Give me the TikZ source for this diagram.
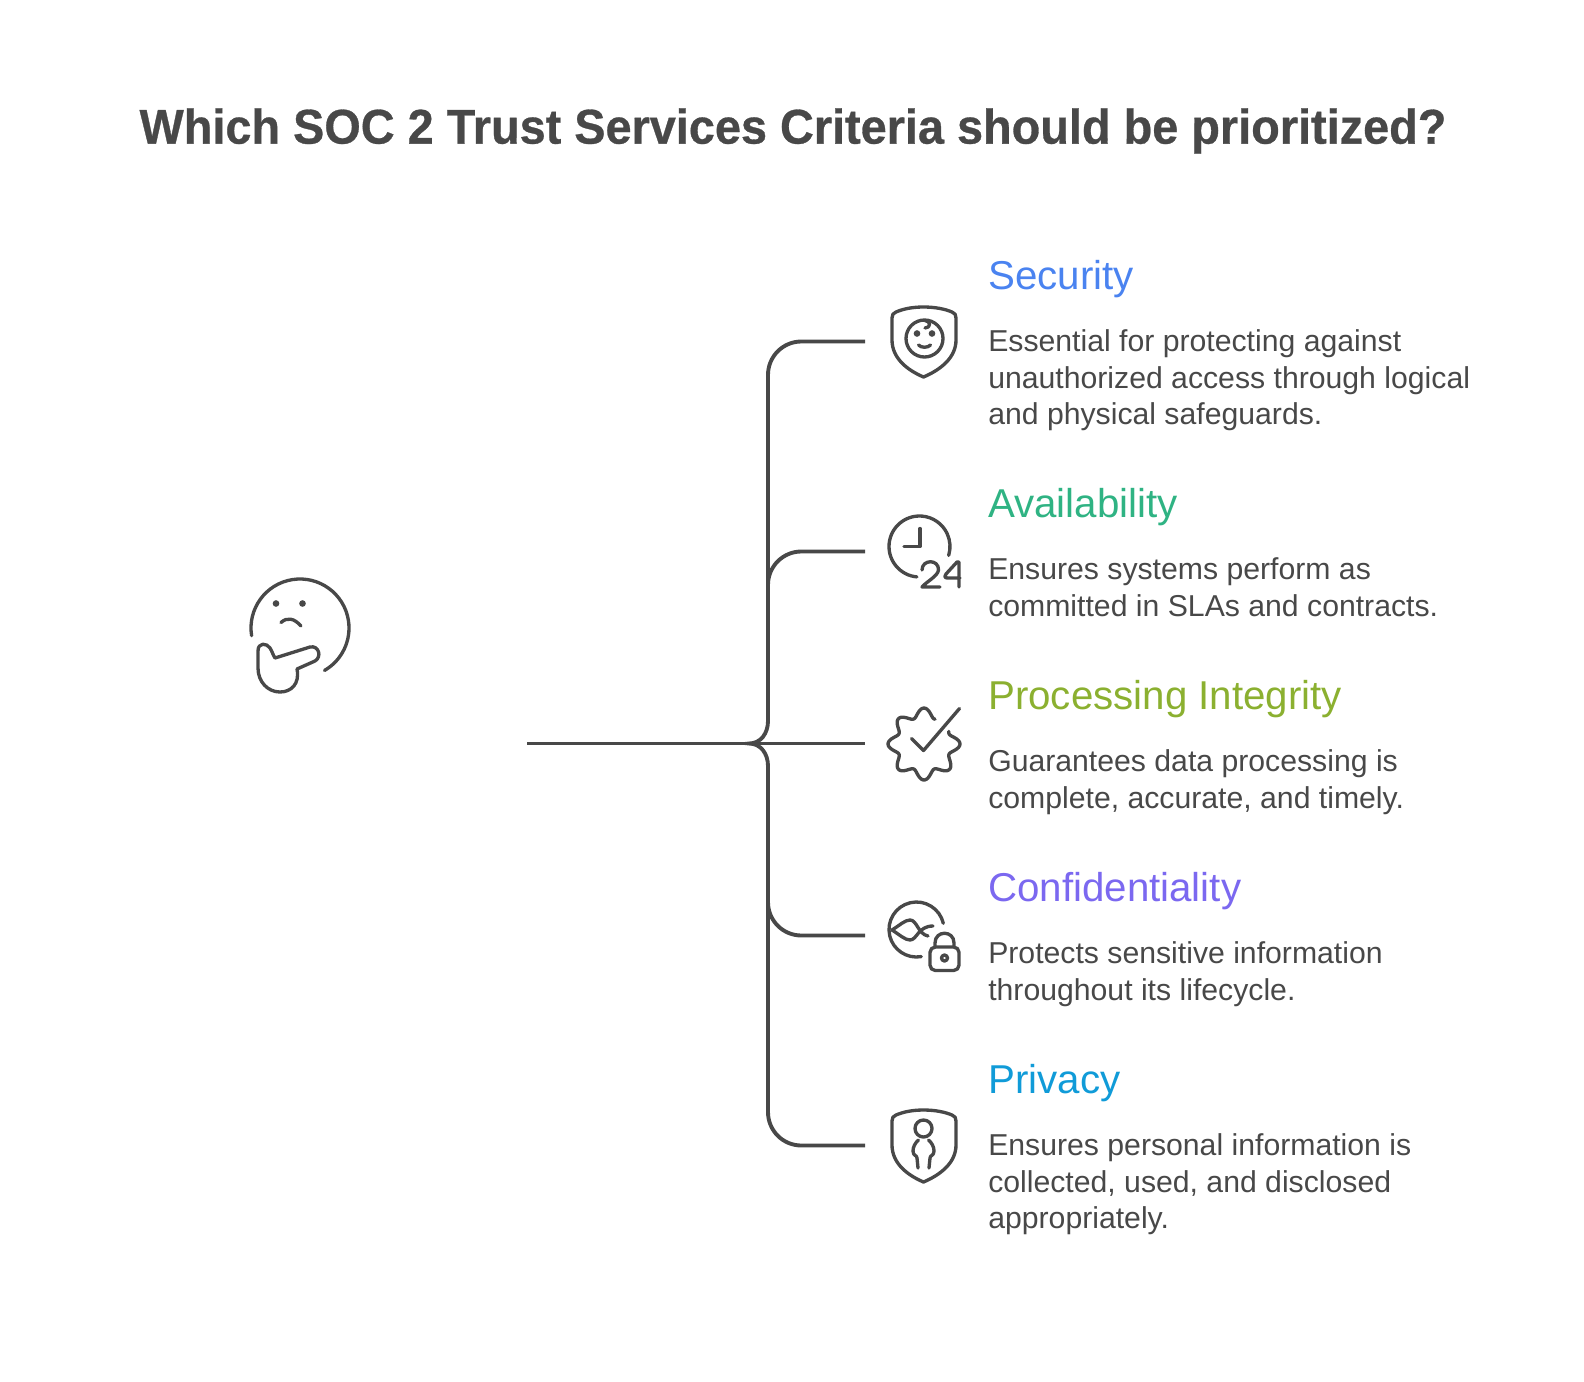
\documentclass[tikz,border=0pt]{standalone}
\usepackage{fontspec}
\setmainfont{Liberation Sans}
\newfontfamily\titlefont[FakeStretch=0.96, FakeBold=0.6]{Liberation Sans Bold}
\usepackage{tikz}
\usetikzlibrary{positioning}
\definecolor{ink}{HTML}{484848}
\definecolor{cSecurity}{HTML}{4A83F0}
\definecolor{cAvail}{HTML}{2FB383}
\definecolor{cProc}{HTML}{8BB030}
\definecolor{cConf}{HTML}{7B68F0}
\definecolor{cPriv}{HTML}{109BD8}
\tikzset{conn/.style = {draw = ink, line width = 2.9pt}}
\tikzset{icon/.style = {draw = ink, line width = 2.5pt, line cap = round, line join = round}}
\tikzset{dot/.style = {fill = ink, circle, inner sep = 0, minimum size = 5pt}}
\tikzset{head/.style = {anchor = base west, inner sep = 0, font = \fontsize{30.2}{36}\selectfont}}
\tikzset{body/.style = {anchor = north west, inner sep = 0, align = left, text = ink,
                        font = \fontsize{22.65}{27.3}\selectfont}}
\begin{document}
\begin{tikzpicture}[x=0.75pt, y=-0.75pt]
    \useasboundingbox (0, 0) rectangle (1584, 1381);

    \node [anchor = center, inner sep = 0, text = ink, font = \fontsize{36.6}{44}\titlefont] (titlenode) at (793, 131)
        {Which SOC 2 Trust Services Criteria should be prioritized?};

    % connectors
    \coordinate (start) at (527, 743.5);
    \coordinate (hub) at (749, 743.5);
    \coordinate (upbend) at (768, 721);
    \coordinate (downbend) at (768, 766);
    \coordinate (endsecurity) at (865, 341.5);
    \coordinate (endavail) at (865, 551.5);
    \coordinate (endproc) at (865, 743.5);
    \coordinate (endconf) at (865, 935.5);
    \coordinate (endpriv) at (865, 1145.5);
    \draw [conn] (start) -- (endproc);
    \draw [conn] (upbend) .. controls (768, 733) and (761, 743.5) .. (hub) .. controls (761, 743.5) and (768, 754) .. (downbend);
    \foreach \e/\b in {endsecurity/upbend, endavail/upbend, endconf/downbend, endpriv/downbend}
        \draw [conn, rounded corners = 25] (\b) |- (\e);

    % labels
    \node [head, text = cSecurity] (security) at (988, 289) {Security};
    \node [body] (securitytext) at (988, 329.5) {Essential for protecting against\\unauthorized access through logical\\and physical safeguards.};
    \node [head, text = cAvail] (avail) at (988, 517) {Availability};
    \node [body] (availtext) at (988, 557.5) {Ensures systems perform as\\committed in SLAs and contracts.};
    \node [head, text = cProc] (proc) at (988, 709) {Processing Integrity};
    \node [body] (proctext) at (988, 749.5) {Guarantees data processing is\\complete, accurate, and timely.};
    \node [head, text = cConf] (conf) at (988, 901) {Confidentiality};
    \node [body] (conftext) at (988, 941.5) {Protects sensitive information\\throughout its lifecycle.};
    \node [head, text = cPriv] (priv) at (988, 1093) {Privacy};
    \node [body] (privtext) at (988, 1133.5) {Ensures personal information is\\collected, used, and disclosed\\appropriately.};

    % thinking face
    \draw [icon] (300, 628) ++(171:49) arc [start angle = 171, end angle = 420, radius = 49];
    \node [dot] (eyeleft) at (276, 603.5) {};
    \node [dot] (eyeright) at (302.5, 603.5) {};
    \draw [icon] (281, 622.5) .. controls (287, 617) and (294, 618) .. (301, 626);
    \draw [icon] (275, 658) .. controls (273, 655) and (272, 651) .. (270, 648) .. controls (267, 643) and (258, 642) .. (258, 651) -- (258, 668)
        .. controls (258, 682) and (268, 692) .. (280, 692) .. controls (291, 692) and (300, 684) .. (297, 669)
        -- (315, 661) .. controls (322, 657) and (319, 645) .. (310, 647) -- cycle;

    % shield with face
    \draw [icon] (923.5, 307) .. controls (935, 307) and (945, 309) .. (952, 312) .. controls (955, 313) and (956, 315) .. (956, 318) -- (956, 340)
        .. controls (956, 358) and (940, 370) .. (923.5, 377) .. controls (907, 370) and (892, 358) .. (892, 340) -- (892, 318)
        .. controls (892, 315) and (893, 313) .. (896, 312) .. controls (903, 309) and (912, 307) .. cycle;
    \draw [icon] (924.5, 338.5) circle [radius = 18.5];
    \draw [icon] (925, 320.5) .. controls (931, 321) and (931, 328) .. (925, 328);
    \node [dot] (faceleft) at (917, 333.5) {};
    \node [dot] (faceright) at (932, 333.5) {};
    \draw [icon] (918.5, 345) .. controls (921, 348) and (928, 348) .. (930.5, 345);

    % clock
    \draw [icon] (919.5, 546.5) ++(95:30.5) arc [start angle = 95, end angle = 377, radius = 30.5];
    \draw [icon] (920, 528.5) -- (920, 546.5) -- (904, 546.5);
    \draw [icon] (922, 570) .. controls (922, 559) and (939, 559) .. (938.5, 570) .. controls (938, 576) and (926, 582) .. (922, 587) -- (940, 587);
    \draw [icon] (959, 587) -- (959, 562) -- (957, 562) -- (946, 574) .. controls (944, 577) and (945, 578) .. (948, 578) -- (960, 578);

    % badge with check
    \draw [icon, domain = -66:-387, samples = 120, smooth] plot ({924 + (31.5 + 4.5 * cos(8 * \x)) * cos(\x)}, {744 + (31.5 + 4.5 * cos(8 * \x)) * sin(\x)});
    \draw [icon] (911.5, 738.5) -- (923.5, 750.5) -- (959.5, 708.5);

    % circle with lock
    \draw [icon] (916.5, 929.5) ++(-13:27.5) arc [start angle = -13, end angle = -280, radius = 27.5];
    \draw [icon] (892, 930) .. controls (900, 925) and (905, 920) .. (910, 920) .. controls (917, 920) and (918, 934) .. (928, 936);
    \draw [icon] (892, 930) .. controls (900, 935) and (905, 940) .. (910, 940) .. controls (917, 940) and (918, 926) .. (933, 926);
    \draw [icon, rounded corners = 4] (930, 947) rectangle (959, 970.5);
    \draw [icon] (935, 947) -- (935, 943) .. controls (935, 930) and (954, 930) .. (954, 943) -- (954, 947);
    \draw [icon] (944.5, 958) circle [radius = 3];

    % shield with person
    \draw [icon] (923.5, 1110) .. controls (935, 1110) and (945, 1112) .. (952, 1115) .. controls (955, 1116) and (956, 1118) .. (956, 1121) -- (956, 1145)
        .. controls (956, 1163) and (940, 1175) .. (923.5, 1182) .. controls (907, 1175) and (892, 1163) .. (892, 1145) -- (892, 1121)
        .. controls (892, 1118) and (893, 1116) .. (896, 1115) .. controls (903, 1112) and (912, 1110) .. cycle;
    \draw [icon] (923.5, 1128.5) circle [radius = 8.5];
    \draw [icon] (918.5, 1140) .. controls (915, 1143) and (913, 1147) .. (913, 1151) .. controls (913, 1156) and (917, 1155) .. (917, 1158) -- (918, 1168);
    \draw [icon] (928.5, 1140) .. controls (932, 1143) and (934, 1147) .. (934, 1151) .. controls (934, 1156) and (930, 1155) .. (930, 1158) -- (929, 1168);
  \end{tikzpicture}
\end{document}
